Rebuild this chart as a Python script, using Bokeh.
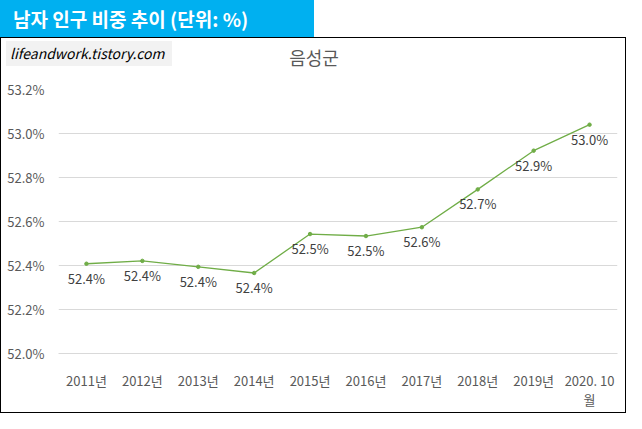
from bokeh.plotting import figure
from bokeh.models import (ColumnDataSource, LabelSet, Div, FixedTicker,
                          CustomJSTickFormatter, FactorRange, Range1d)
from bokeh.layouts import column
from bokeh.core.properties import value
from bokeh.embed import file_html
from bokeh.resources import INLINE

# ---- data ----
years = ["2011년", "2012년", "2013년", "2014년", "2015년", "2016년",
         "2017년", "2018년", "2019년", "2020. 10\n월"]
ratios = [52.408, 52.421, 52.394, 52.366, 52.543, 52.534, 52.574, 52.746, 52.922, 53.04]
y_ticks = [52.0, 52.2, 52.4, 52.6, 52.8, 53.0, 53.2]
header = "남자 인구 비중 추이 (단위: %)"
chart_title = "음성군"
watermark = "lifeandwork.tistory.com"

FONT = "Noto Sans CJK KR"
FONT_CSS = "'Noto Sans CJK KR', 'Noto Sans', sans-serif"

INNER_W = 624
HEAD_H = 37
INFO_H = 40
P_H = 413 - HEAD_H - 2 - INFO_H

head_div = Div(
    text=(f"<div style=\"width:314px;height:{HEAD_H}px;background:#00B0F0;color:white;"
          f"font-family:{FONT_CSS};font-weight:bold;font-size:19px;line-height:{HEAD_H}px;"
          f"padding-left:13px;box-sizing:border-box;white-space:nowrap;\">{header}</div>"),
    width=314, height=HEAD_H, margin=0)

info_div = Div(
    text=(f"<div style=\"position:relative;width:{INNER_W}px;height:{INFO_H}px;background:white;"
          f"font-family:{FONT_CSS};\">"
          f"<div style=\"position:absolute;left:5px;top:3px;width:166px;height:25px;"
          f"background:#F2F2F2;font-style:italic;font-size:14px;color:black;line-height:25px;"
          f"padding-left:4px;box-sizing:border-box;white-space:nowrap;\">{watermark}</div>"
          f"<div style=\"position:absolute;left:0;width:{INNER_W}px;top:8px;text-align:center;"
          f"font-size:18px;color:#595959;line-height:22px;\">"
          f"<span style=\"position:relative;left:1px;\">{chart_title}</span></div>"
          f"</div>"),
    width=INNER_W, height=INFO_H, margin=0)

src = ColumnDataSource(dict(x=years, y=ratios, lbl=[f"{v:.1f}%" for v in ratios]))

p = figure(width=INNER_W, height=P_H, x_range=FactorRange(*years), y_range=Range1d(52.0, 53.2),
           output_backend="svg", toolbar_location=None, margin=0,
           min_border_left=57, min_border_right=8, min_border_top=11, min_border_bottom=59)
p.outline_line_color = None
p.background_fill_color = "white"
p.border_fill_color = "white"

p.line("x", "y", source=src, line_color="#70AD47", line_width=1.3)
p.scatter("x", "y", source=src, size=3.5, color="#70AD47")

labels = LabelSet(x="x", y="y", text="lbl", source=src, text_align="center",
                  text_baseline="top", y_offset=-5, text_font=value(FONT),
                  text_font_size="13px", text_color="#404040")
p.add_layout(labels)

p.yaxis.ticker = FixedTicker(ticks=y_ticks)
p.yaxis.formatter = CustomJSTickFormatter(code="return tick.toFixed(1) + '%';")
p.yaxis.axis_line_color = None
p.yaxis.major_tick_line_color = None
p.yaxis.minor_tick_line_color = None
p.yaxis.major_tick_out = 0
p.yaxis.major_label_standoff = 14
p.yaxis.major_label_text_font = FONT
p.yaxis.major_label_text_font_size = "13px"
p.yaxis.major_label_text_color = "#595959"

# keep every x label a two-line block so that first lines line up
p.xaxis.major_label_overrides = {y: (y if "\n" in y else y + "\n\u00a0") for y in years}
p.xaxis.axis_line_color = "#D9D9D9"
p.xaxis.major_tick_line_color = None
p.xaxis.minor_tick_line_color = None
p.xaxis.major_tick_out = 0
p.xaxis.major_label_standoff = 17
p.xaxis.major_label_text_font = FONT
p.xaxis.major_label_text_font_size = "13px"
p.xaxis.major_label_text_color = "#595959"
p.xaxis.major_label_text_line_height = 1.05

p.xgrid.grid_line_color = None
p.ygrid.grid_line_color = "#D9D9D9"
p.ygrid.grid_line_width = 1

box = column(info_div, p, margin=0, spacing=0,
             styles={"border": "1px solid black", "background": "white"})
root = column(head_div, box, margin=0, spacing=0)

open("out.html", "w").write(file_html(root, INLINE))
